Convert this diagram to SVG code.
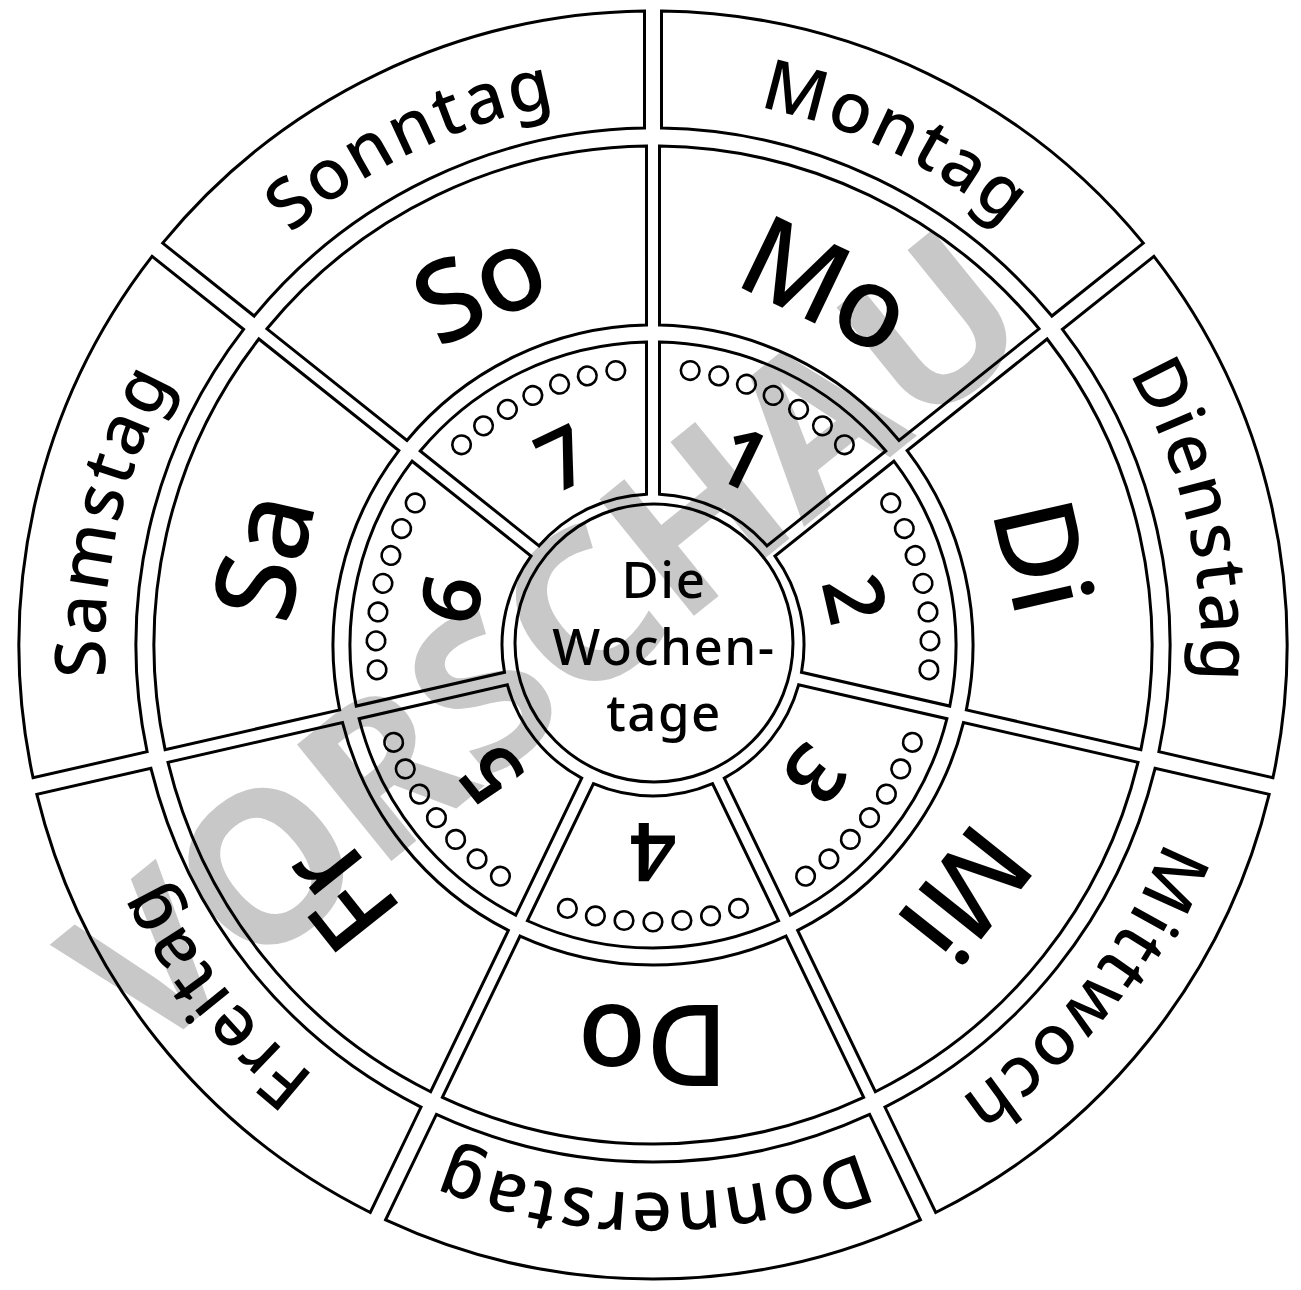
<svg xmlns="http://www.w3.org/2000/svg" xmlns:xlink="http://www.w3.org/1999/xlink" width="1301" height="1290" viewBox="0 0 1301 1290">
<style>
.seg{fill:none;stroke:#000;stroke-width:3}
.dot{fill:none;stroke:#000;stroke-width:2.6}
text{font-family:'Noto Sans','DejaVu Sans',sans-serif;fill:#000;font-weight:500}
.name{font-size:70px;letter-spacing:3px}
.abbr{font-size:112px;text-anchor:middle}
.num{font-size:82px;text-anchor:middle;font-weight:600}
.mid{font-size:51px;text-anchor:middle;letter-spacing:1.5px}
.wm{font-size:210px;font-weight:bold;fill:#c8c8c8;text-anchor:middle}
</style>
<defs>
<path id="r1" class="seg" d="M -267.40,-574.85 A 634 634 0 0 1 267.40,-574.85 L 216.62,-469.43 A 517 517 0 0 0 -216.62,-469.43 Z"/>
<path id="r2" class="seg" d="M -210.63,-452.37 A 499 499 0 0 1 210.63,-452.37 L 132.95,-291.07 A 320 320 0 0 0 -132.95,-291.07 Z"/>
<path id="r3" class="seg" d="M -125.58,-275.75 A 303 303 0 0 1 125.58,-275.75 L 59.60,-138.74 A 151 151 0 0 0 -59.60,-138.74 Z"/>
<g id="dots" class="dot">
<circle cx="-85.6" cy="-263.44" r="9.3"/>
<circle cx="-57.59" cy="-270.95" r="9.3"/>
<circle cx="-28.95" cy="-275.48" r="9.3"/>
<circle cx="0" cy="-277" r="9.3"/>
<circle cx="28.95" cy="-275.48" r="9.3"/>
<circle cx="57.59" cy="-270.95" r="9.3"/>
<circle cx="85.6" cy="-263.44" r="9.3"/>
</g>
<path id="arc" fill="none" d="M -474.58,-274 A 548 548 0 0 1 474.58,-274"/>
</defs>
<text class="wm" transform="translate(545,640) rotate(-39)" y="75">VORSCHAU</text>
<g id="montag" transform="translate(653,645) rotate(25.714)">
<use href="#r1"/><use href="#r2"/><use href="#r3"/><use href="#dots"/>
<text class="name"><textPath href="#arc" startOffset="50%" text-anchor="middle">Montag</textPath></text>
<text class="abbr" y="-360">Mo</text>
<text class="num" y="-178">1</text>
</g>
<g id="dienstag" transform="translate(653,645) rotate(77.143)">
<use href="#r1"/><use href="#r2"/><use href="#r3"/><use href="#dots"/>
<text class="name"><textPath href="#arc" startOffset="50%" text-anchor="middle">Dienstag</textPath></text>
<text class="abbr" y="-360">Di</text>
<text class="num" y="-178">2</text>
</g>
<g id="mittwoch" transform="translate(653,645) rotate(128.571)">
<use href="#r1"/><use href="#r2"/><use href="#r3"/><use href="#dots"/>
<text class="name"><textPath href="#arc" startOffset="50%" text-anchor="middle">Mittwoch</textPath></text>
<text class="abbr" y="-360">Mi</text>
<text class="num" y="-178">3</text>
</g>
<g id="donnerstag" transform="translate(653,645) rotate(180)">
<use href="#r1"/><use href="#r2"/><use href="#r3"/><use href="#dots"/>
<text class="name"><textPath href="#arc" startOffset="50%" text-anchor="middle">Donnerstag</textPath></text>
<text class="abbr" y="-360">Do</text>
<text class="num" y="-178">4</text>
</g>
<g id="freitag" transform="translate(653,645) rotate(231.429)">
<use href="#r1"/><use href="#r2"/><use href="#r3"/><use href="#dots"/>
<text class="name"><textPath href="#arc" startOffset="50%" text-anchor="middle">Freitag</textPath></text>
<text class="abbr" y="-360">Fr</text>
<text class="num" y="-178">5</text>
</g>
<g id="samstag" transform="translate(653,645) rotate(282.857)">
<use href="#r1"/><use href="#r2"/><use href="#r3"/><use href="#dots"/>
<text class="name"><textPath href="#arc" startOffset="50%" text-anchor="middle">Samstag</textPath></text>
<text class="abbr" y="-360">Sa</text>
<text class="num" y="-178">6</text>
</g>
<g id="sonntag" transform="translate(653,645) rotate(334.286)">
<use href="#r1"/><use href="#r2"/><use href="#r3"/><use href="#dots"/>
<text class="name"><textPath href="#arc" startOffset="50%" text-anchor="middle">Sonntag</textPath></text>
<text class="abbr" y="-360">So</text>
<text class="num" y="-178">7</text>
</g>
<g id="center">
<circle class="seg" cx="654" cy="643" r="139"/>
<text class="mid" x="664" y="598">Die</text>
<text class="mid" x="664" y="665">Wochen-</text>
<text class="mid" x="664" y="731">tage</text>
</g>
<g id="connectors"/>
</svg>
